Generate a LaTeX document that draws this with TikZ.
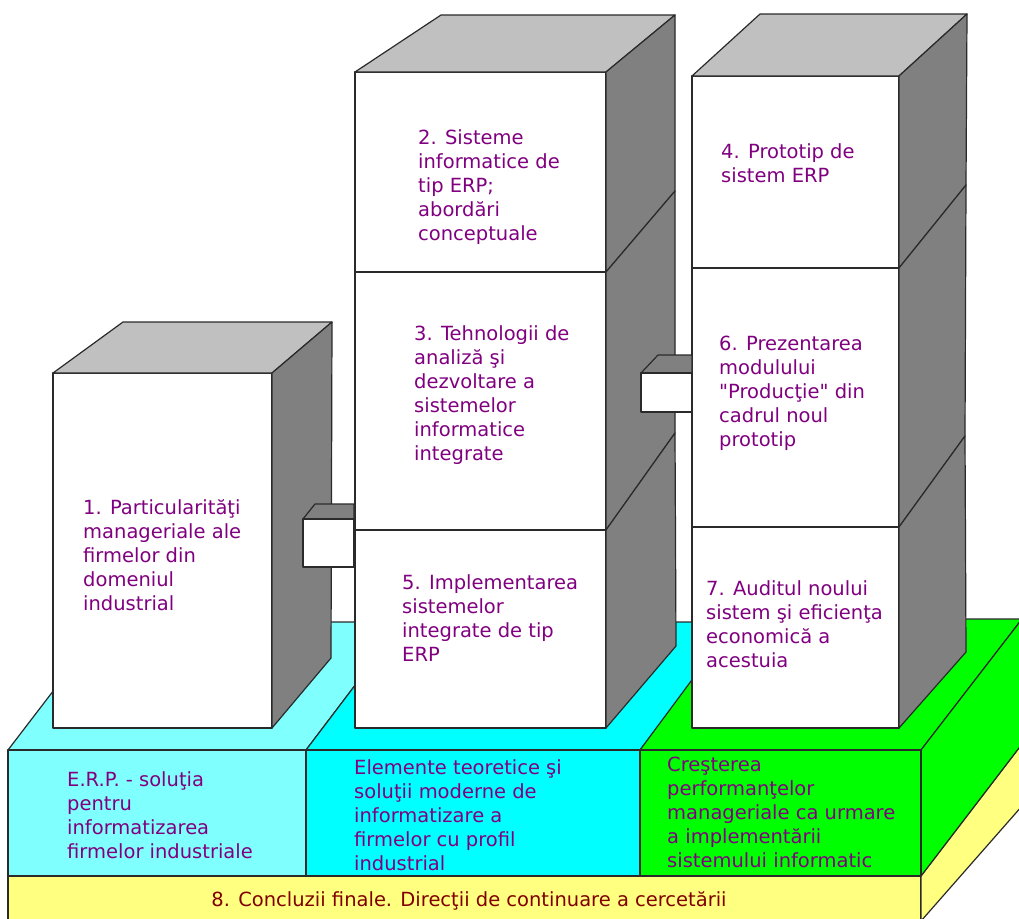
\documentclass[tikz,border=0pt]{standalone}
\usepackage{fontspec}
\setmainfont{DejaVu Sans}[Ligatures=TeXOff]
\definecolor{purp}{HTML}{800080}
\definecolor{dred}{HTML}{800000}
\definecolor{lcyan}{HTML}{80FFFF}
\definecolor{cyanc}{HTML}{00FFFF}
\definecolor{greenc}{HTML}{00FF00}
\definecolor{yell}{HTML}{FFFF80}
\definecolor{topg}{HTML}{C0C0C0}
\definecolor{sideg}{HTML}{808080}
\definecolor{edge}{HTML}{2A2A2A}
\tikzset{
  face/.style={draw=edge, line width=1.2pt, line join=round},
  txt/.style={anchor=north west, inner sep=0pt, align=left, text=purp,
    font=\fontsize{19.5}{24}\selectfont},
}
\begin{document}
\begin{tikzpicture}[x=1pt,y=-1pt]
\useasboundingbox (0,0) rectangle (1019,918);
\fill[white] (0,0) rectangle (1019,918);
% ---- base slab (yellow)
\filldraw[face, fill=yell] (8,876) rectangle (921,921);
\filldraw[face, fill=yell] (921,876) -- (1022,744) -- (1022,806) -- (921,921) -- cycle;
% ---- platform tier
\filldraw[face, fill=lcyan] (8,750) -- (106,622) -- (403,622) -- (306,750) -- cycle;
\filldraw[face, fill=cyanc] (306,750) -- (403,622) -- (737,622) -- (640,750) -- cycle;
\filldraw[face, fill=greenc] (640,750) -- (737,619) -- (1022,619) -- (921,750) -- cycle;
\filldraw[face, fill=greenc] (921,750) -- (1022,619) -- (1022,744) -- (921,876) -- cycle;
\filldraw[face, fill=lcyan] (8,750) rectangle (306,876);
\filldraw[face, fill=cyanc] (306,750) rectangle (640,876);
\filldraw[face, fill=greenc] (640,750) rectangle (921,876);
% ---- box 1
\filldraw[face, fill=white] (53,373) rectangle (272,728);
\filldraw[face, fill=topg] (53,373) -- (123,322) -- (332,322) -- (272,373) -- cycle;
\filldraw[face, fill=sideg] (272,373) -- (332,322) -- (331,658) -- (272,728) -- cycle;
% ---- middle stack (2, 3, 5)
\filldraw[face, fill=white] (355,72) rectangle (606,272);
\filldraw[face, fill=white] (355,272) rectangle (606,530);
\filldraw[face, fill=white] (355,530) rectangle (606,728);
\filldraw[face, fill=topg] (355,72) -- (441,15) -- (675,15) -- (606,72) -- cycle;
\filldraw[face, fill=sideg] (606,72) -- (675,15) -- (675,191) -- (606,272) -- cycle;
\filldraw[face, fill=sideg] (606,272) -- (675,191) -- (675,433) -- (606,530) -- cycle;
\filldraw[face, fill=sideg] (606,530) -- (675,433) -- (676,646) -- (606,728) -- cycle;
% ---- right stack (4, 6, 7)
\filldraw[face, fill=white] (692,76) rectangle (899,268);
\filldraw[face, fill=white] (692,268) rectangle (899,527);
\filldraw[face, fill=white] (692,527) rectangle (899,728);
\filldraw[face, fill=topg] (692,76) -- (760,14) -- (967,14) -- (899,76) -- cycle;
\filldraw[face, fill=sideg] (899,76) -- (967,14) -- (966,185) -- (899,268) -- cycle;
\filldraw[face, fill=sideg] (899,268) -- (966,185) -- (965,436) -- (899,527) -- cycle;
\filldraw[face, fill=sideg] (899,527) -- (965,436) -- (966,652) -- (899,728) -- cycle;
% ---- connecting blocks
\filldraw[face, fill=sideg] (303,519) -- (315,504) -- (354,504) -- (354,519) -- cycle;
\filldraw[face, fill=white] (303,519) rectangle (354,567);
\filldraw[face, fill=sideg] (641,373) -- (658,355) -- (692,355) -- (692,373) -- cycle;
\filldraw[face, fill=white] (641,373) rectangle (692,412);
% ---- texts
\node[txt] (t1) at (83,499) {1. Particularităţi\\manageriale ale\\firmelor din\\domeniul\\industrial};
\node[txt] (t2) at (418,129) {2. Sisteme\\informatice de\\tip ERP;\\abordări\\conceptuale};
\node[txt] (t3) at (414,325) {3. Tehnologii de\\analiză şi\\dezvoltare a\\sistemelor\\informatice\\integrate};
\node[txt] (t5) at (402,574) {5. Implementarea\\sistemelor\\integrate de tip\\ERP};
\node[txt] (t4) at (721,143) {4. Prototip de\\sistem ERP};
\node[txt] (t6) at (719,336) {6. Prezentarea\\modulului\\"Producţie" din\\cadrul noul\\prototip};
\node[txt] (t7) at (706,580) {7. Auditul noului\\sistem şi eficienţa\\economică a\\acestuia};
\node[txt] (te) at (67,771) {E.R.P. - soluţia\\pentru\\informatizarea\\firmelor industriale};
\node[txt] (tc) at (354,759) {Elemente teoretice şi\\soluţii moderne de\\informatizare a\\firmelor cu profil\\industrial};
\node[txt] (tg) at (667,757) {Creşterea\\performanţelor\\manageriale ca urmare\\a implementării\\sistemului informatic};
\node[anchor=base, inner sep=0pt, text=dred, font=\fontsize{19.5}{24}\selectfont] (t8) at (469,906) {8. Concluzii finale. Direcţii de continuare a cercetării};
\end{tikzpicture}
\end{document}
